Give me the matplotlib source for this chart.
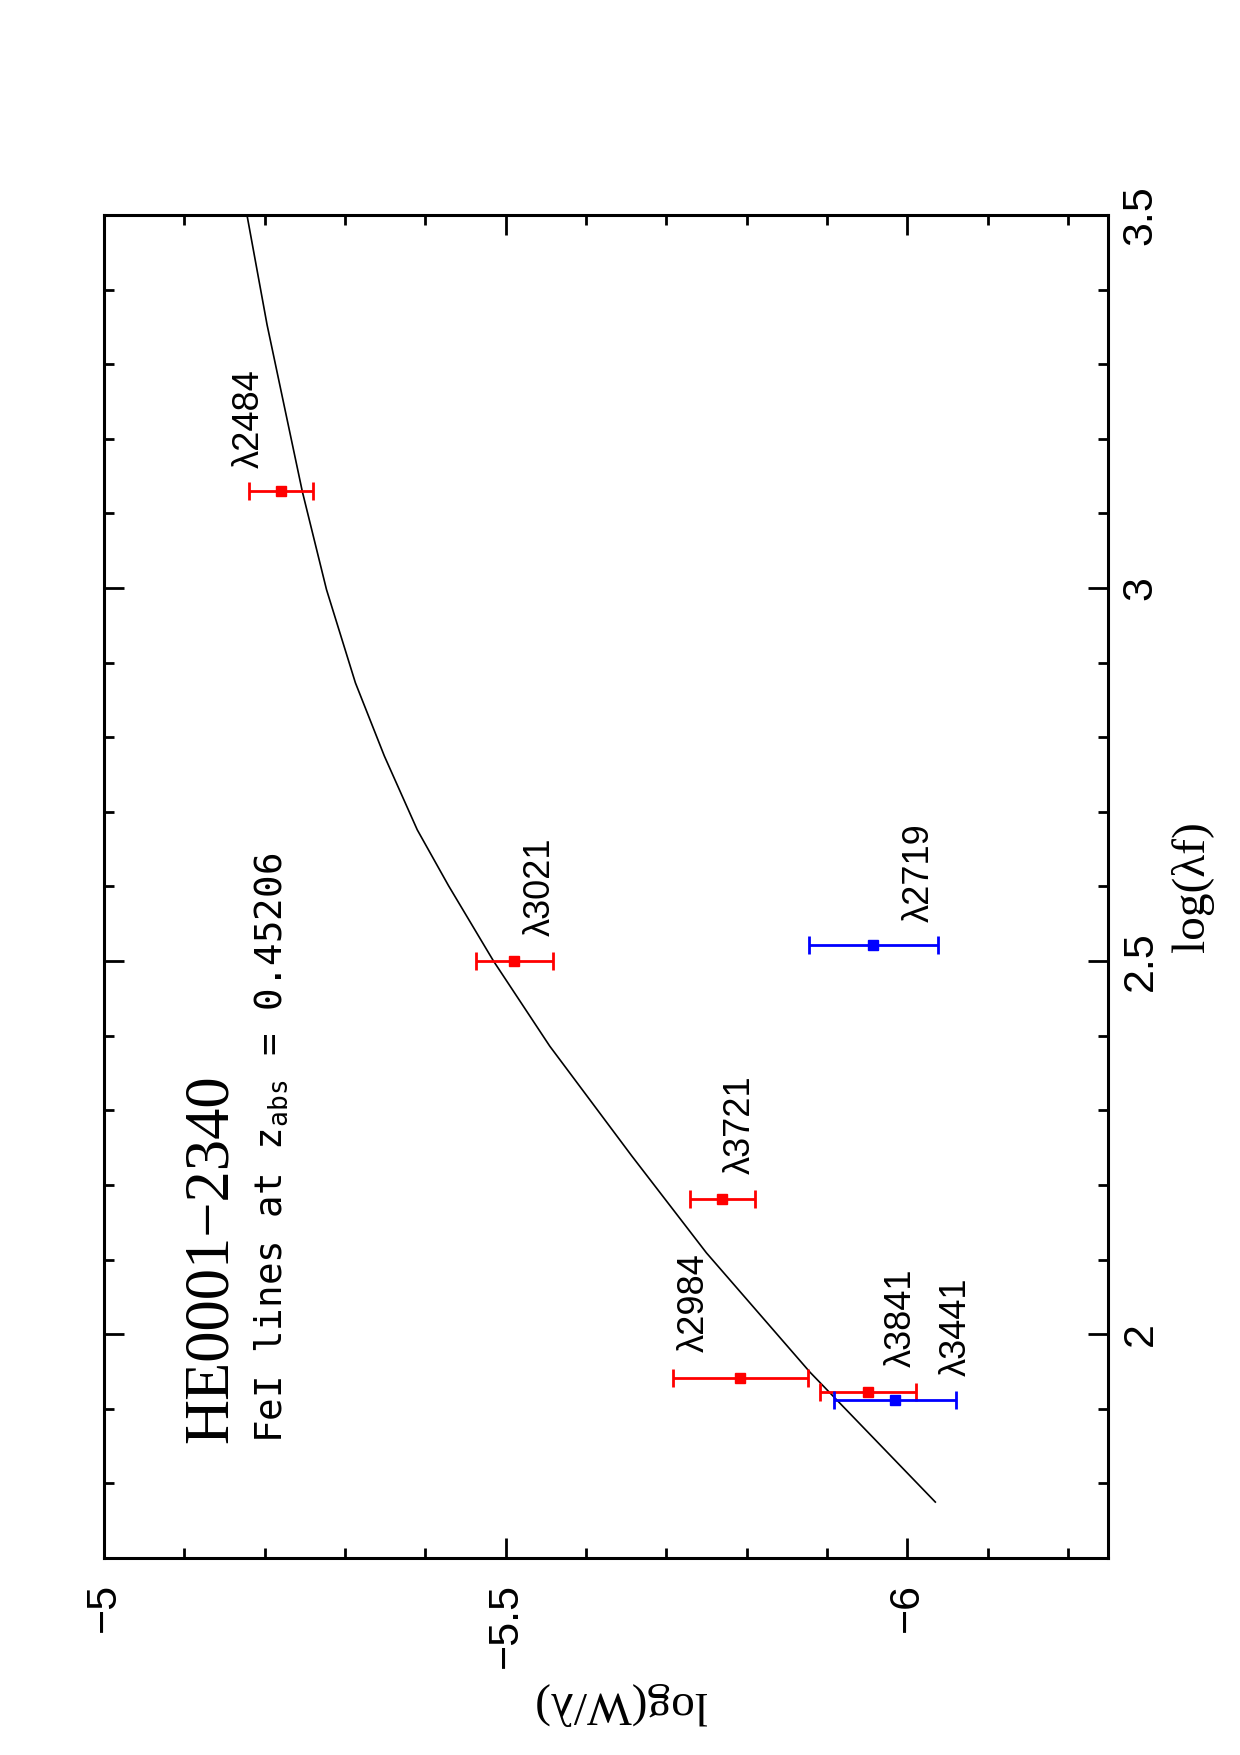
import numpy as np
import matplotlib.pyplot as plt
from matplotlib.ticker import MultipleLocator

# curve of growth (log(lambda f), log(W/lambda))
cog_logf = [3.500, 3.353, 3.129, 2.998, 2.873, 2.775, 2.676, 2.601,
            2.500, 2.386, 2.239, 2.109, 1.949, 1.775]
cog_logw = [-5.178, -5.203, -5.247, -5.277, -5.313, -5.349, -5.390, -5.429,
            -5.485, -5.555, -5.657, -5.750, -5.879, -6.035]

# FeI lines
red_labels = ['λ2484', 'λ3021', 'λ3721', 'λ2984', 'λ3841']
red_logf = [3.130, 2.500, 2.181, 1.941, 1.922]
red_logw = [-5.220, -5.511, -5.770, -5.792, -5.951]
red_err = [0.040, 0.048, 0.040, 0.084, 0.060]

blue_labels = ['λ3441', 'λ2719']
blue_logf = [1.912, 2.521]
blue_logw = [-5.985, -5.958]
blue_err = [0.076, 0.080]

# label offsets in pixels (rotated page)
red_offsets = [(-22, 23), (35, 25), (27, 25), (-36, 26), (43, 25)]
blue_offsets = [(71, 24), (55, 23)]

fig = plt.figure(figsize=(12.4, 17.55), dpi=100)
ax = fig.add_axes([104 / 1240, 1 - 1558 / 1755, 1004 / 1240, 1343 / 1755])

ax.plot(cog_logw, cog_logf, color='black', lw=1.2)

ax.errorbar(red_logw, red_logf, xerr=red_err, fmt='s', color='red', ms=7,
            elinewidth=2, capsize=6.5, capthick=2)
ax.errorbar(blue_logw, blue_logf, xerr=blue_err, fmt='s', color='blue', ms=7,
            elinewidth=2, capsize=6.5, capthick=2)

for labs, xs, ys, offs in [(red_labels, red_logw, red_logf, red_offsets),
                           (blue_labels, blue_logw, blue_logf, blue_offsets)]:
    for lab, x, y, off in zip(labs, xs, ys, offs):
        ax.annotate(lab, (x, y), xytext=off, textcoords='offset pixels',
                    rotation=90, rotation_mode='anchor', ha='left', va='baseline',
                    fontsize=26, family='Liberation Sans')

ax.text(0.1225, 0.0856, 'HE0001\u22122340', transform=ax.transAxes,
        rotation=90, rotation_mode='anchor', ha='left', va='baseline',
        fontsize=45, family='Liberation Serif')
ax.text(0.1773, 0.0856, r'FeI lines at z$_{\mathtt{abs}}$ = 0.45206', transform=ax.transAxes,
        rotation=90, rotation_mode='anchor', ha='left', va='baseline',
        fontsize=27, family='DejaVu Sans Mono')

ax.set_xlim(-5, -6.25)
ax.set_ylim(1.7, 3.5)

ax.xaxis.set_major_locator(MultipleLocator(0.5))
ax.xaxis.set_minor_locator(MultipleLocator(0.1))
ax.yaxis.set_major_locator(MultipleLocator(0.5))
ax.yaxis.set_minor_locator(MultipleLocator(0.1))
ax.xaxis.set_major_formatter(lambda v, p: f'{v:g}'.replace('-', '\u2212'))
ax.yaxis.set_major_formatter(lambda v, p: f'{v:g}')

ax.tick_params(which='both', direction='in', top=True, bottom=True, left=True, right=True,
               labelleft=False, labelright=True, width=2)
ax.tick_params(which='major', length=14.4)
ax.tick_params(which='minor', length=7.2)
ax.tick_params(axis='x', labelrotation=90, pad=18, labelsize=31)
ax.tick_params(axis='y', labelrotation=90, pad=9, labelsize=31)
for t in ax.get_xticklabels() + ax.get_yticklabels():
    t.set_family('Liberation Sans')
for t in ax.get_yticklabels():
    t.set_va('center')
for s in ax.spines.values():
    s.set_linewidth(2.2)

ax.set_xlabel('log(W/λ)', rotation=180, ha='center', va='center',
              fontsize=34, family='Liberation Serif')
ax.xaxis.set_label_coords(0.514, -0.1087)
ax.yaxis.set_label_position('right')
ax.set_ylabel('log(λf)', rotation=90, ha='center', va='center',
              fontsize=34, family='Liberation Serif')
ax.yaxis.set_label_coords(1.084, 0.5)

fig.savefig('out.png', dpi=100)
plt.close(fig)
